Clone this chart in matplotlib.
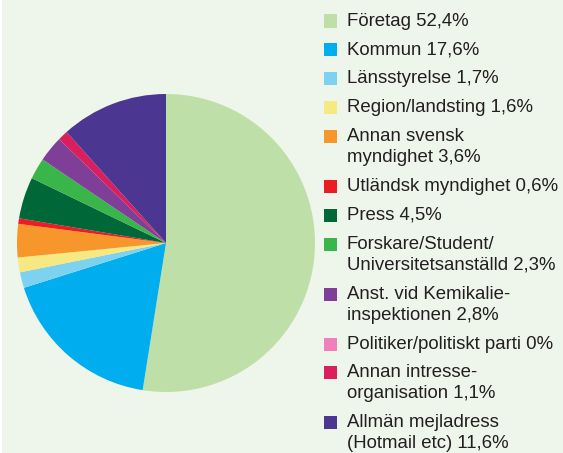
import matplotlib
matplotlib.use("Agg")
import matplotlib.pyplot as plt
from matplotlib.patches import Rectangle

BG = "#eef6ec"

labels = [
    "Företag 52,4%",
    "Kommun 17,6%",
    "Länsstyrelse 1,7%",
    "Region/landsting 1,6%",
    "Annan svensk\nmyndighet 3,6%",
    "Utländsk myndighet 0,6%",
    "Press 4,5%",
    "Forskare/Student/\nUniversitetsanställd 2,3%",
    "Anst. vid Kemikalie-\ninspektionen 2,8%",
    "Politiker/politiskt parti 0%",
    "Annan intresse-\norganisation 1,1%",
    "Allmän mejladress\n(Hotmail etc) 11,6%",
]
shares = [52.4, 17.6, 1.7, 1.6, 3.6, 0.6, 4.5, 2.3, 2.8, 0.0, 1.1, 11.6]
colors = [
    "#bfdfa8", "#00aeef", "#7dd3ef", "#f7e982", "#f7962a", "#ed1c24",
    "#006838", "#39b54a", "#7f3f98", "#f07fbb", "#d91f5e", "#4b3691",
]

W, H = 563, 453
fig = plt.figure(figsize=(W / 100, H / 100), dpi=100, facecolor=BG)
# thin white strip on the left edge, as in the scanned original
fig.patches.append(Rectangle((0, 0), 2 / W, 1, transform=fig.transFigure,
                             facecolor="white", edgecolor="none"))

# pie: center (166, 243) px, radius 149 px
cx, cy, r = 166, 243, 149
ax = fig.add_axes([(cx - r) / W, (H - cy - r) / H, 2 * r / W, 2 * r / H])
ax.pie(shares, colors=colors, startangle=90, counterclock=False, radius=1,
       wedgeprops=dict(linewidth=0))
ax.set_xlim(-1, 1)
ax.set_ylim(-1, 1)
ax.set_aspect("equal")
ax.axis("off")

# legend drawn by hand so the square sits beside the first line
sq = 13
y = 21.0
for lab, col in zip(labels, colors):
    fig.patches.append(Rectangle((324 / W, (H - y - sq / 2) / H), sq / W, sq / H,
                                 transform=fig.transFigure, facecolor=col,
                                 edgecolor="none"))
    lines = lab.split("\n")
    for i, ln in enumerate(lines):
        fig.text(347 / W, (H - y - i * 21) / H, ln, fontsize=13.4,
                 family="Liberation Sans", color="#231f20",
                 ha="left", va="center")
    y += 28.9 + 21 * (len(lines) - 1)

fig.savefig("out.png", dpi=100, facecolor=BG)
